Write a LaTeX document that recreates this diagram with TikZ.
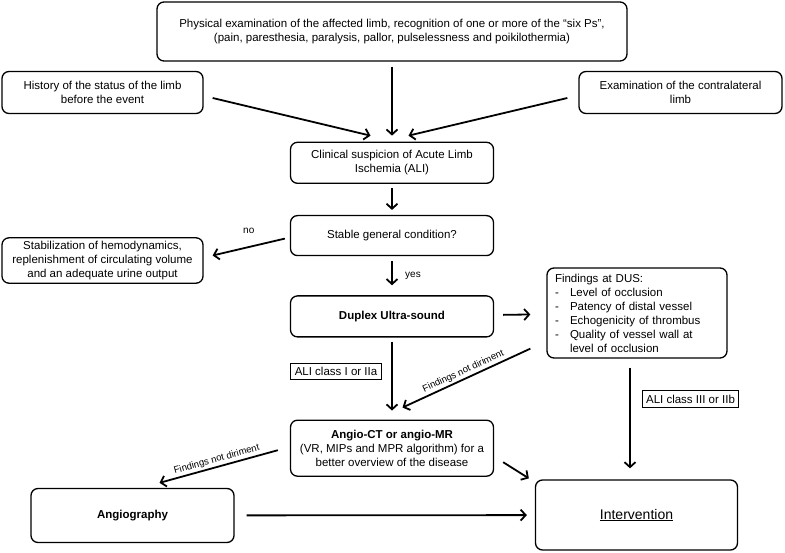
\documentclass[tikz,border=0pt]{standalone}
\usepackage{fontspec}
\setmainfont{Liberation Sans}
\usetikzlibrary{arrows.meta,positioning}
\newcommand{\dusdash}{\makebox[15pt][l]{-}}

\begin{document}
\begin{tikzpicture}[
    x=1pt, y=1pt,
    node distance=30pt,
    box/.style={rectangle,rounded corners=7pt,draw,line width=1.3pt,
      minimum width=203pt,minimum height=41pt,align=center,
      font=\fontsize{11.5}{14}\selectfont},
    tag/.style={rectangle,draw,line width=1.1pt,inner sep=4pt,
      font=\fontsize{11.5}{14}\selectfont},
    note/.style={font=\fontsize{9.5}{11}\selectfont,sloped,above,inner sep=2pt},
    arrow/.style={-{Straight Barb[length=5pt,width=11pt]},line width=1.8pt}
  ]
    \useasboundingbox (0,0) rectangle (785,-553);
    \node[box,minimum width=470pt,minimum height=59pt] (phys) at (392,-31.5)
      {Physical examination of the affected limb, recognition of one or more of the “six Ps”,\\
       (pain, paresthesia, paralysis, pallor, pulselessness and poikilothermia)};
    \node[box,below=80pt of phys,minimum height=41pt] (susp) {Clinical suspicion of Acute Limb\\Ischemia (ALI)};
    \node[box,below=31pt of susp,minimum height=40pt] (stable) {Stable general condition?};
    \node[box,below=39pt of stable] (duplex) {\textbf{Duplex Ultra-sound}};
    \node[box,below=82pt of duplex,minimum height=56pt] (angio)
      {\textbf{Angio-CT or angio-MR}\\(VR, MIPs and MPR algorithm) for a\\better overview of the disease};

    \node[box,minimum width=201pt,minimum height=42pt] (hist) at (102.5,-92.5)
      {History of the status of the limb\\before the event};
    \node[box,minimum width=203pt,minimum height=42pt] (contra) at (680.5,-92.5)
      {Examination of the contralateral\\limb};
    \node[box,minimum width=201pt,minimum height=45pt] (stabil) at (102.5,-260.5)
      {Stabilization of hemodynamics,\\replenishment of circulating volume\\and an adequate urine output};
    \node[box,minimum width=180pt,minimum height=90pt,text width=164pt,inner xsep=8pt,align=left] (dusf) at (637,-313)
      {Findings at DUS:\\
       \dusdash Level of occlusion\\
       \dusdash Patency of distal vessel\\
       \dusdash Echogenicity of thrombus\\
       \dusdash Quality of vessel wall at\\
       \hspace*{15pt}level of occlusion};
    \node[box,minimum width=203pt,minimum height=54pt] (angiog) at (132.5,-515.5) {\textbf{Angiography}};
    \node[box,minimum width=202pt,minimum height=70pt,font=\fontsize{14}{16}\selectfont] (interv) at (636.5,-515)
      {\underline{Intervention}};

    \node[tag] (aliI) at (336,-371.5) {ALI class I or IIa};
    \node[tag] (aliIII) at (690.5,-399) {ALI class III or IIb};

    \draw[arrow,shorten <=5pt,shorten >=6pt] (phys) -- (susp);
    \draw[arrow] ([xshift=9pt,yshift=-5.5pt]hist.east) -- ([xshift=-21.5pt,yshift=6pt]susp.north);
    \draw[arrow] ([xshift=-11pt,yshift=-5.5pt]contra.west) -- ([xshift=16.5pt,yshift=6pt]susp.north);
    \draw[arrow,shorten <=4pt,shorten >=5pt] (susp) -- (stable);
    \draw[arrow] ([xshift=-5pt,yshift=-3pt]stable.west) -- node[above=9pt] (no) {no} ([xshift=9pt,yshift=5pt]stabil.east);
    \draw[arrow,shorten <=5pt,shorten >=10pt] (stable) -- node[right=9pt] (yes) {yes} (duplex);
    \draw[arrow,shorten <=9pt,shorten >=16pt] (duplex) -- (dusf);
    \draw[arrow,shorten <=4pt,shorten >=9pt] (duplex) -- (angio);
    \draw[arrow] ([xshift=-16pt,yshift=10pt]dusf.south west) -- node[note] (fnd1) {Findings not diriment} ([xshift=10.5pt,yshift=12pt]angio.north);
    \draw[arrow] ([xshift=-7pt,yshift=-9pt]dusf.south) -- ([xshift=-6.5pt,yshift=11pt]interv.north);
    \draw[arrow] ([xshift=9pt,yshift=-14pt]angio.east) -- ([xshift=-6pt,yshift=1pt]interv.north west);
    \draw[arrow] ([xshift=-12pt,yshift=-2pt]angio.west) -- node[note] (fnd2) {Findings not diriment} ([xshift=27pt,yshift=5pt]angiog.north);
    \draw[arrow,shorten <=12pt,shorten >=8pt] (angiog) -- (interv);
  \end{tikzpicture}
\end{document}
